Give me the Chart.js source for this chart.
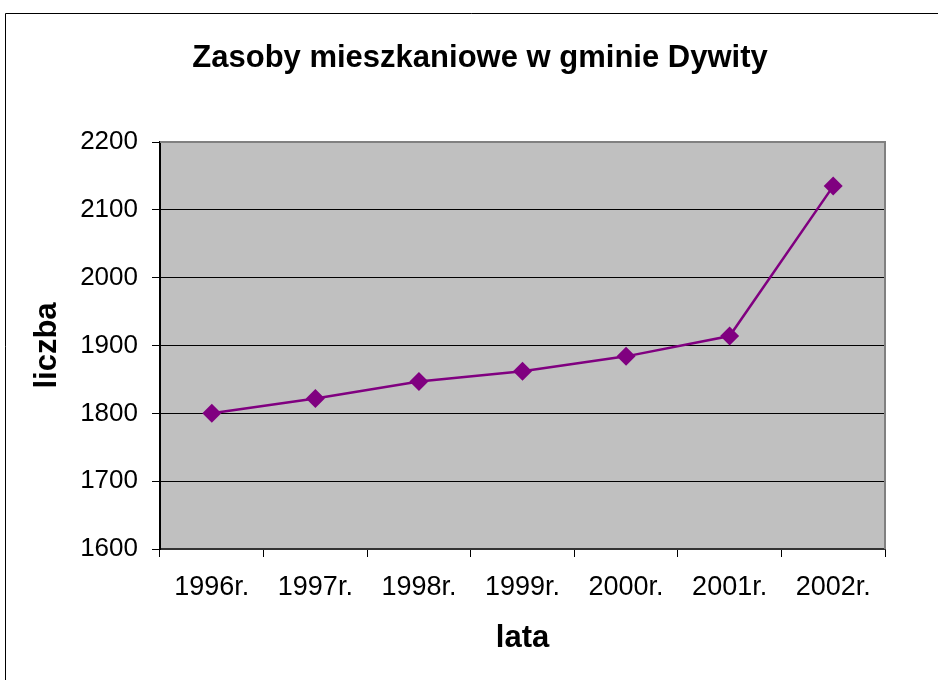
<!DOCTYPE html>
<html>
<head>
<meta charset="utf-8">
<script src="https://cdn.jsdelivr.net/npm/chart.js@4"></script>
<style>
html,body{margin:0;padding:0;background:#fff;}
#wrap{position:relative;width:938px;height:680px;}
</style>
</head>
<body>
<div id="wrap"><canvas id="c" width="938" height="680"></canvas></div>
<script>
const categories = ["1996r.", "1997r.", "1998r.", "1999r.", "2000r.", "2001r.", "2002r."];
const values = [1800, 1822, 1847, 1862, 1884, 1914, 2135];
const chartTitle = "Zasoby mieszkaniowe w gminie Dywity";
const xTitle = "lata";
const yTitle = "liczba";
const yMin = 1600, yMax = 2200, yStep = 100;

const FONT = "'Liberation Sans', Arial, sans-serif";

const plotBg = {
  id: 'plotBg',
  beforeDraw(chart) {
    const {ctx, chartArea: a} = chart;
    ctx.save();
    ctx.fillStyle = '#C0C0C0';
    ctx.fillRect(a.left, a.top, a.right - a.left, a.bottom - a.top);
    ctx.restore();
  },
  beforeDatasetsDraw(chart) {
    const {ctx, chartArea: a} = chart;
    ctx.save();
    ctx.strokeStyle = '#808080';
    ctx.lineWidth = 2;
    ctx.beginPath();
    ctx.moveTo(a.left, a.top);
    ctx.lineTo(a.right, a.top);
    ctx.lineTo(a.right, a.bottom);
    ctx.stroke();
    ctx.restore();
  },
  afterDraw(chart) {
    const {ctx, width, height} = chart;
    ctx.save();
    ctx.strokeStyle = '#000';
    ctx.lineWidth = 1;
    ctx.beginPath();
    ctx.moveTo(5.5, height);
    ctx.lineTo(5.5, 13.5);
    ctx.lineTo(width, 13.5);
    ctx.stroke();
    ctx.restore();
  }
};

new Chart(document.getElementById('c'), {
  type: 'line',
  data: {
    labels: categories,
    datasets: [{
      data: values,
      borderColor: '#800080',
      backgroundColor: '#800080',
      borderWidth: 2.5,
      pointStyle: 'rectRot',
      pointRadius: 9.5,
      pointBorderWidth: 0,
      pointBackgroundColor: '#800080',
      tension: 0,
      fill: false
    }]
  },
  options: {
    responsive: false,
    animation: false,
    events: [],
    layout: { padding: { left: 22, right: 0, top: 0, bottom: 0 } },
    plugins: {
      legend: { display: false },
      tooltip: { enabled: false },
      title: {
        display: true,
        text: chartTitle,
        color: '#000',
        font: { family: FONT, size: 31, weight: 'bold' },
        padding: { top: 40, bottom: 64.8 }
      }
    },
    scales: {
      x: {
        type: 'category',
        offset: true,
        grid: {
          offset: true,
          drawOnChartArea: false,
          drawTicks: true,
          tickLength: 8,
          color: '#000',
          lineWidth: 1
        },
        border: { color: '#333', width: 2 },
        ticks: {
          color: '#000',
          font: { family: FONT, size: 27 },
          padding: 14,
          maxRotation: 0,
          autoSkip: false
        },
        title: {
          display: true,
          text: xTitle,
          color: '#000',
          font: { family: FONT, size: 31, weight: 'bold' },
          padding: { top: 0, bottom: 23 }
        },
        afterFit(scale) { scale.height = 131; }
      },
      y: {
        min: yMin,
        max: yMax,
        grid: {
          color: '#000',
          lineWidth: 1,
          drawTicks: true,
          tickLength: 8
        },
        border: { color: '#000', width: 2 },
        ticks: {
          stepSize: yStep,
          color: '#000',
          font: { family: FONT, size: 26 },
          padding: 14,
          callback: (v) => String(v)
        },
        title: {
          display: true,
          text: yTitle,
          color: '#000',
          font: { family: FONT, size: 31, weight: 'bold' },
          padding: { top: 7, bottom: 0 }
        },
        afterFit(scale) { scale.width = 138; }
      },
      yRight: {
        position: 'right',
        min: yMin,
        max: yMax,
        grid: { display: false, drawOnChartArea: false, drawTicks: false },
        border: { display: false },
        ticks: { display: false },
        afterFit(scale) { scale.width = 53; }
      }
    }
  },
  plugins: [plotBg]
});
</script>
</body>
</html>
